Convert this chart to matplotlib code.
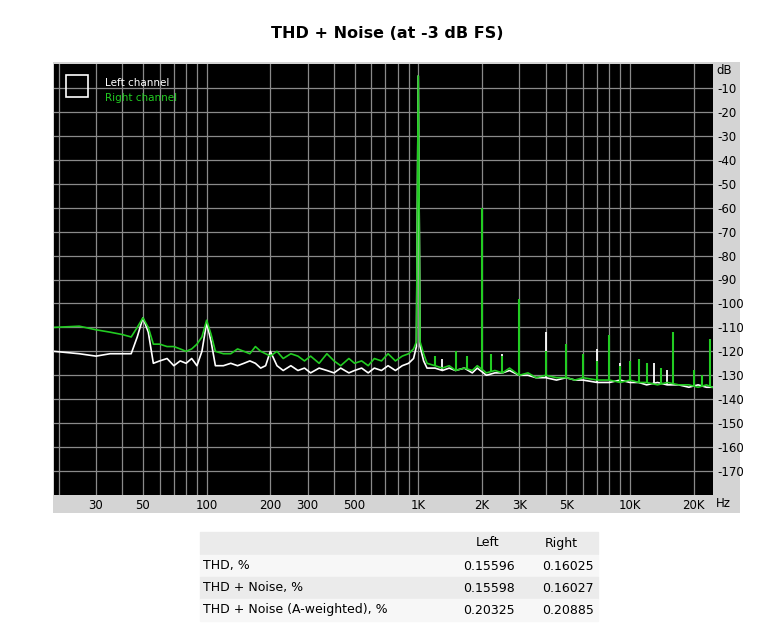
import numpy as np
import matplotlib.pyplot as plt
from matplotlib.patches import Rectangle

# ---- data ----
floor_r_f = [19, 25, 30, 35, 40, 44, 47, 50, 53, 56, 60, 65, 70, 75, 80, 85, 90, 95, 100, 105, 110, 120, 130, 140, 150, 160, 170, 180, 190, 200, 215, 230, 250, 270, 290, 310, 340, 370, 400, 430, 470, 500, 540, 580, 620, 670, 720, 780, 840, 900, 950, 980, 1000, 1020, 1060, 1100, 1200, 1300, 1400, 1500, 1650, 1800, 1900, 2100, 2300, 2500, 2700, 3000, 3300, 3600, 4000, 4500, 5000, 5500, 6000, 7000, 8000, 9000, 10000, 11000, 12000, 13500, 15000, 17000, 19000, 21000, 23000, 24500]
floor_r_v = [-110, -109.5, -111, -112, -113, -114, -110, -106, -110, -117, -117, -118, -118, -119, -120, -119, -117, -114, -107, -113, -120, -121, -121, -119, -120, -121, -118, -120, -121, -122, -120, -123, -121, -122, -124, -122, -125, -121, -124, -126, -123, -125, -124, -126, -123, -124, -121, -124, -122, -121, -119, -116, -5, -116, -121, -125, -126, -127, -126, -128, -127, -128, -126, -129, -128, -129, -127, -130, -129, -131, -130, -131, -131, -132, -131, -132, -132, -133, -132, -133, -133, -134, -133, -134, -134, -135, -134, -135]
floor_l_f = [19, 25, 30, 35, 40, 44, 47, 50, 53, 56, 60, 65, 70, 75, 80, 85, 90, 95, 100, 105, 110, 120, 130, 140, 150, 160, 170, 180, 190, 200, 215, 230, 250, 270, 290, 310, 340, 370, 400, 430, 470, 500, 540, 580, 620, 670, 720, 780, 840, 900, 950, 980, 1000, 1020, 1060, 1100, 1200, 1300, 1400, 1500, 1650, 1800, 1900, 2100, 2300, 2500, 2700, 3000, 3300, 3600, 4000, 4500, 5000, 5500, 6000, 7000, 8000, 9000, 10000, 11000, 12000, 13500, 15000, 17000, 19000, 21000, 23000, 24500]
floor_l_v = [-120, -121, -122, -121, -121, -121, -114, -106, -112, -125, -124, -123, -126, -124, -125, -123, -126, -120, -108, -116, -126, -126, -125, -126, -125, -124, -125, -127, -126, -120, -126, -128, -126, -128, -127, -129, -127, -128, -129, -127, -129, -128, -127, -129, -127, -128, -126, -128, -126, -125, -123, -118, -5, -118, -124, -127, -127, -128, -127, -128, -127, -129, -127, -130, -129, -129, -128, -130, -130, -131, -131, -132, -131, -132, -132, -133, -133, -132, -133, -133, -134, -133, -134, -134, -135, -134, -135, -135]

harm_r_f = [1200, 1500, 1700, 2000, 2200, 2500, 3000, 4000, 5000, 6000, 7000, 8000, 9000, 10000, 11000, 12000, 14000, 16000, 20000, 22000, 24000]
harm_r_v = [-122, -120, -122, -60, -121, -122, -98, -120, -117, -121, -124, -113, -126, -124, -123, -125, -127, -112, -128, -130, -115]
harm_l_f = [1300, 2500, 4000, 7000, 9000, 13000, 15000]
harm_l_v = [-123, -121, -112, -119, -125, -125, -128]

x_ticks = [30, 50, 100, 200, 300, 500, 1000, 2000, 3000, 5000, 10000, 20000]
x_labels = ['30', '50', '100', '200', '300', '500', '1K', '2K', '3K', '5K', '10K', '20K']
grid_x = [20, 30, 40, 50, 60, 70, 80, 90, 100, 200, 300, 400, 500, 600, 700, 800, 900,
          1000, 2000, 3000, 4000, 5000, 6000, 7000, 8000, 9000, 10000, 20000]
y_ticks = list(range(-10, -180, -10))

table_cols = ['Left', 'Right']
table_rows = ['THD, %', 'THD + Noise, %', 'THD + Noise (A-weighted), %']
table_left = ['0.15596', '0.15598', '0.20325']
table_right = ['0.16025', '0.16027', '0.20885']

# ---- figure ----
fig = plt.figure(figsize=(7.74, 6.4), dpi=100)
W, H = 774, 640
bg = fig.add_axes([53 / W, 1 - 513 / H, 687 / W, 451 / H])
bg.set_facecolor('#d4d4d4')
bg.set_xticks([]); bg.set_yticks([])
for s in bg.spines.values():
    s.set_visible(False)
bg.set_zorder(0)

ax = fig.add_axes([54 / W, 1 - 495 / H, 659 / W, 431 / H])
ax.set_zorder(2)
ax.set_facecolor('black')
ax.set_xscale('log')
ax.set_xlim(19, 24700)
ax.set_ylim(-180, 0)
for g in grid_x:
    ax.axvline(g, color='#8a8a8a', lw=0.9, zorder=1)
for g in y_ticks:
    ax.axhline(g, color='#8a8a8a', lw=0.9, zorder=1)

ax.plot(floor_l_f, floor_l_v, color='white', lw=1.2, zorder=3)
ax.plot(floor_r_f, floor_r_v, color='#22cc22', lw=1.2, zorder=4)
fl = np.interp(np.log(harm_l_f), np.log(floor_l_f), floor_l_v)
ax.vlines(harm_l_f, fl, harm_l_v, color='white', lw=1.3, zorder=3)
fr = np.interp(np.log(harm_r_f), np.log(floor_r_f), floor_r_v)
ax.vlines(harm_r_f, fr, harm_r_v, color='#22cc22', lw=1.5, zorder=4)

ax.yaxis.tick_right()
ax.set_yticks(y_ticks)
ax.set_yticklabels([str(v) for v in y_ticks], fontsize=8.5)
ax.set_xticks(x_ticks)
ax.set_xticklabels(x_labels, fontsize=8.5)
ax.xaxis.set_minor_locator(plt.NullLocator())
ax.tick_params(length=0, pad=3)
for s in ax.spines.values():
    s.set_visible(False)
ax.text(1.005, 0.985, 'dB', transform=ax.transAxes, fontsize=8.5, va='center')
ax.text(1.005, -0.02, 'Hz', transform=ax.transAxes, fontsize=8.5, va='center')

# legend
ax.text(0.078, 0.955, 'Left channel', transform=ax.transAxes, color='white', fontsize=7.5, va='center', zorder=6)
ax.text(0.078, 0.920, 'Right channel', transform=ax.transAxes, color='#22cc22', fontsize=7.5, va='center', zorder=6)
ax.add_patch(Rectangle((12 / 659, 1 - 33 / 431), 22 / 659, 22 / 431, transform=ax.transAxes,
                       fill=False, ec='white', lw=1.2, zorder=6))

fig.text(0.5, 1 - 33 / H, 'THD + Noise (at -3 dB FS)', ha='center', va='center',
         fontsize=11.5, fontweight='bold')

# table
row_tops = [532, 555, 577, 599]
rh = 22
for i, top in enumerate(row_tops):
    col = '#ebebeb' if i % 2 == 0 else '#f7f7f7'
    fig.patches.append(Rectangle((200 / W, 1 - (top + rh) / H), 398 / W, rh / H,
                                 transform=fig.transFigure, color=col, zorder=0))
yc = [543, 566, 588, 610]
fig.text(499 / W, 1 - yc[0] / H, table_cols[0], ha='right', va='center', fontsize=9)
fig.text(578 / W, 1 - yc[0] / H, table_cols[1], ha='right', va='center', fontsize=9)
for i in range(3):
    y = 1 - yc[i + 1] / H
    fig.text(203 / W, y, table_rows[i], ha='left', va='center', fontsize=9)
    fig.text(515 / W, y, table_left[i], ha='right', va='center', fontsize=9)
    fig.text(594 / W, y, table_right[i], ha='right', va='center', fontsize=9)

fig.savefig('out.png', dpi=100)
